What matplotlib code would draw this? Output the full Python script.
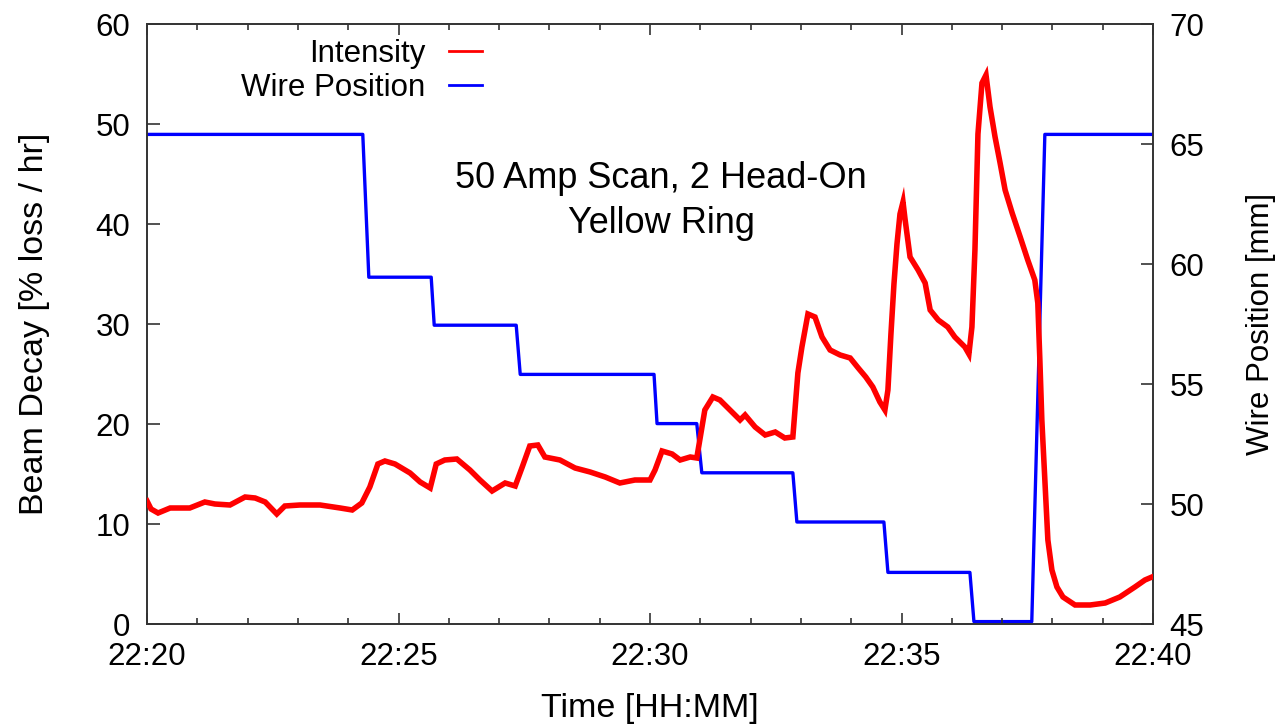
import matplotlib
matplotlib.use("Agg")
import matplotlib.pyplot as plt
from matplotlib.ticker import MultipleLocator

plt.rcParams['font.family'] = ['Liberation Sans', 'DejaVu Sans']

# ---- data (minutes after 22:20) ----
intensity_t = [0.00, 0.08, 0.22, 0.46, 0.85, 1.15, 1.35, 1.65, 1.95, 2.15, 2.35, 2.58, 2.74,
               3.04, 3.44, 3.84, 4.08, 4.27, 4.43, 4.59, 4.73, 4.93, 5.23, 5.43, 5.63, 5.75,
               5.92, 6.16, 6.42, 6.62, 6.86, 7.12, 7.32, 7.46, 7.61, 7.77, 7.91, 8.21, 8.51,
               8.81, 9.11, 9.40, 9.70, 10.00, 10.10, 10.24, 10.44, 10.60, 10.80, 10.93, 10.99,
               11.09, 11.25, 11.39, 11.59, 11.79, 11.89, 12.09, 12.29, 12.49, 12.68, 12.84,
               12.94, 13.02, 13.14, 13.28, 13.42, 13.58, 13.78, 13.98, 14.14, 14.29, 14.43,
               14.57, 14.67, 14.73, 14.79, 14.85, 14.91, 14.97, 15.03, 15.07, 15.17, 15.33,
               15.47, 15.57, 15.73, 15.92, 16.06, 16.26, 16.34, 16.40, 16.46, 16.52, 16.60,
               16.68, 16.76, 16.86, 16.96, 17.06, 17.20, 17.36, 17.51, 17.65, 17.71, 17.75,
               17.79, 17.85, 17.91, 17.99, 18.09, 18.21, 18.45, 18.75, 19.05, 19.34, 19.64,
               19.84, 19.98]
intensity = [12.3, 11.5, 11.1, 11.6, 11.6, 12.2, 12.0, 11.9, 12.7, 12.6, 12.2, 11.0, 11.8,
             11.9, 11.9, 11.6, 11.4, 12.1, 13.7, 16.0, 16.3, 16.0, 15.1, 14.2, 13.6, 16.0,
             16.4, 16.5, 15.4, 14.4, 13.3, 14.1, 13.8, 15.7, 17.8, 17.9, 16.7, 16.4, 15.6,
             15.2, 14.7, 14.1, 14.4, 14.4, 15.4, 17.3, 17.0, 16.4, 16.7, 16.6, 18.4,
             21.4, 22.7, 22.4, 21.4, 20.4, 20.9, 19.7, 18.9, 19.2, 18.6, 18.7,
             25.1, 27.7, 31.0, 30.7, 28.7, 27.4, 26.9, 26.6, 25.6, 24.7, 23.7,
             22.2, 21.4, 23.4, 29.0, 34.0, 38.0, 41.0, 42.2, 40.5, 36.7, 35.4,
             34.1, 31.4, 30.4, 29.7, 28.7, 27.7, 27.0, 29.7, 37.4, 49.0, 54.1,
             54.9, 51.7, 48.7, 46.1, 43.4, 41.1, 38.7, 36.4, 34.4, 32.1, 26.5,
             20.4, 14.4, 8.4, 5.4, 3.7, 2.7, 1.9, 1.9, 2.1, 2.7, 3.7,
             4.4, 4.7]

wire_t = [0.00, 4.29, 4.41, 5.65, 5.71, 7.34, 7.42, 10.08, 10.14, 10.93, 11.03, 12.84, 12.92,
          14.65, 14.73, 16.36, 16.44, 17.59, 17.85, 20.00]
wire_mm = [65.4, 65.4, 59.45, 59.45, 57.45, 57.45, 55.4, 55.4, 53.35, 53.35, 51.3, 51.3, 49.25,
           49.25, 47.15, 47.15, 45.1, 45.1, 65.4, 65.4]

x_ticks = [0, 5, 10, 15, 20]
x_labels = ['22:20', '22:25', '22:30', '22:35', '22:40']

W, H = 1281, 728
fig = plt.figure(figsize=(W / 100, H / 100), dpi=100)
ax = fig.add_axes([147 / W, 1 - 624 / H, (1153 - 147) / W, 600 / H])
ax2 = ax.twinx()

FS = 22.5
spine_col = '#333333'

l1, = ax.plot(intensity_t, intensity, color='#ff0000', lw=4.0, solid_joinstyle='miter', zorder=3)
l2, = ax2.plot(wire_t, wire_mm, color='#0000ff', lw=2.4, zorder=2)

ax.set_xlim(0, 20)
ax.set_ylim(0, 60)
ax2.set_ylim(45, 70)

ax.set_xticks(x_ticks)
ax.set_xticklabels(x_labels)
ax.xaxis.set_minor_locator(MultipleLocator(1))
ax.set_yticks([0, 10, 20, 30, 40, 50, 60])
ax2.set_yticks([45, 50, 55, 60, 65, 70])

ax.tick_params(axis='x', which='major', direction='in', length=8, width=1.2, top=True,
               labelsize=FS, pad=13, color=spine_col)
ax.tick_params(axis='x', which='minor', direction='in', length=4.5, width=1.2, top=True,
               color=spine_col)
ax.tick_params(axis='y', which='major', direction='in', length=9, width=1.2, right=False,
               labelsize=FS, pad=12, color=spine_col)
ax2.tick_params(axis='y', which='major', direction='in', length=9, width=1.2,
                labelsize=FS, pad=12, color=spine_col)

for a in (ax, ax2):
    for s in a.spines.values():
        s.set_color(spine_col)
        s.set_linewidth(1.2)

ax.set_xlabel('Time [HH:MM]', fontsize=24.5, labelpad=15)
ax.set_ylabel('Beam Decay [% loss / hr]', fontsize=24.5, labelpad=33)
ax2.set_ylabel('Wire Position [mm]', fontsize=22.5, labelpad=30)

ax.set_zorder(ax2.get_zorder() + 1)
ax.patch.set_visible(False)

leg = ax.legend([l1, l2], ['Intensity', 'Wire Position'], loc='upper right',
                bbox_to_anchor=(0.333, 0.975), frameon=False, markerfirst=False,
                fontsize=FS, handlelength=1.05, handletextpad=0.75, labelspacing=0.12,
                borderpad=0, borderaxespad=0)
for h in leg.get_lines():
    h.set_linewidth(2.0)

ax.text(0.511, 0.705, '50 Amp Scan, 2 Head-On\nYellow Ring', transform=ax.transAxes,
        ha='center', va='center', fontsize=26, linespacing=1.4)

fig.savefig('out.png', dpi=100)
